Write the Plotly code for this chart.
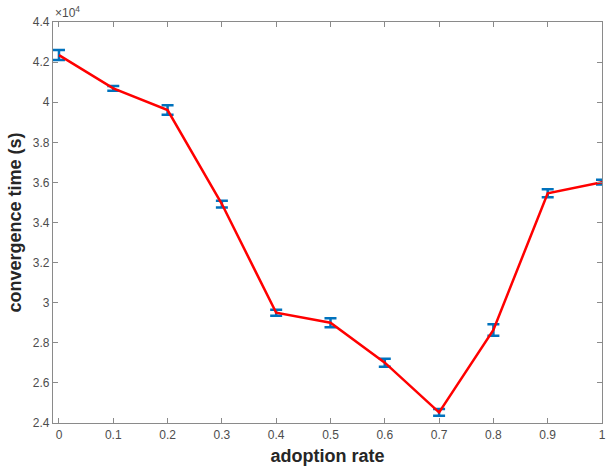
import plotly.graph_objects as go

adoption_rate = [0.0, 0.1, 0.2, 0.3, 0.4, 0.5, 0.6, 0.7, 0.8, 0.9, 1.0]
convergence_time = [42350, 40690, 39610, 34920, 29500, 29000, 27010, 24530, 28640, 35460, 36010]
error = [250, 120, 240, 170, 150, 220, 200, 170, 290, 200, 120]
ytick_vals = [24000, 26000, 28000, 30000, 32000, 34000, 36000, 38000, 40000, 42000, 44000]
ytick_text = ["2.4", "2.6", "2.8", "3", "3.2", "3.4", "3.6", "3.8", "4", "4.2", "4.4"]
xtick_vals = [0, 0.1, 0.2, 0.3, 0.4, 0.5, 0.6, 0.7, 0.8, 0.9, 1]
xtick_text = ["0", "0.1", "0.2", "0.3", "0.4", "0.5", "0.6", "0.7", "0.8", "0.9", "1"]

fig = go.Figure()
fig.add_trace(go.Scatter(
    x=adoption_rate, y=convergence_time, mode="markers",
    marker=dict(size=1, color="rgba(0,0,0,0)"),
    error_y=dict(type="data", array=error, visible=True, color="#0072BD",
                 thickness=2.5, width=6),
    showlegend=False, hoverinfo="skip"))
fig.add_trace(go.Scatter(
    x=adoption_rate, y=convergence_time, mode="lines",
    line=dict(color="#FF0000", width=2.5), showlegend=False))

axis_common = dict(showline=True, linecolor="#8a8a8a", linewidth=1.3, mirror="ticks",
                   ticks="inside", ticklen=5, tickwidth=1.3, tickcolor="#8a8a8a",
                   showgrid=False, zeroline=False,
                   tickfont=dict(family="Liberation Sans, Arial", size=12, color="#4d4d4d"))

fig.update_layout(
    width=611, height=469,
    margin=dict(l=53, r=5, t=22, b=46),
    paper_bgcolor="white", plot_bgcolor="white",
    xaxis=dict(range=[-0.011, 1.0], tickvals=xtick_vals, ticktext=xtick_text,
               title=dict(text="adoption rate", standoff=8,
                          font=dict(family="Liberation Sans, Arial", size=18, color="#262626", weight="bold")),
               **axis_common),
    yaxis=dict(range=[24000, 44000], tickvals=ytick_vals, ticktext=ytick_text,
               title=dict(text="convergence time (s)", standoff=6,
                          font=dict(family="Liberation Sans, Arial", size=18, color="#262626", weight="bold")),
               **axis_common),
    annotations=[dict(text="×10<sup>4</sup>", xref="paper", yref="paper", x=0, y=1,
                      xanchor="left", yanchor="bottom", showarrow=False, yshift=0,
                      font=dict(family="Liberation Sans, Arial", size=12, color="#4d4d4d"))],
)

fig.write_html("out.html")
